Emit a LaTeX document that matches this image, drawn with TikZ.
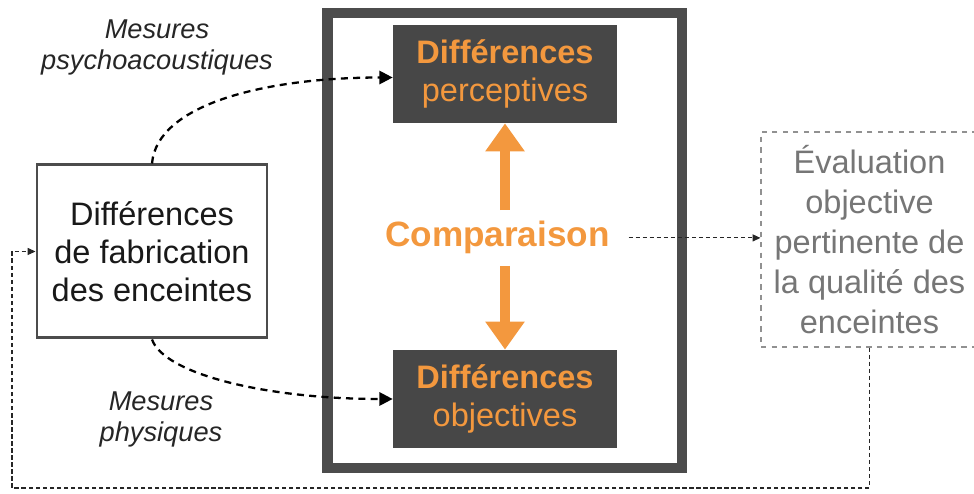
\documentclass[tikz,border=0pt]{standalone}
\usepackage{fontspec}
\setmainfont{Liberation Sans}
\usepackage{xcolor}
\usepackage{tikz}
\usetikzlibrary{arrows.meta,calc,positioning}
\definecolor{cmporange}{RGB}{243,152,62}
\definecolor{boxgrey}{RGB}{71,71,71}
\definecolor{framegrey}{RGB}{76,76,76}
\definecolor{evalgrey}{RGB}{118,118,118}
\newcommand{\bigfont}{\fontsize{18.5}{21.5}\selectfont}

\begin{document}
\begin{tikzpicture}[
  darkbox/.style={rectangle, fill=boxgrey, minimum width=4.48cm, minimum height=1.96cm,
    align=center, text=cmporange, font=\bigfont, inner sep=0pt},
  fabbox/.style={rectangle, draw=framegrey, line width=1.7pt, minimum width=4.6cm,
    minimum height=3.46cm, align=center, text=black!90, font=\bigfont},
  evalbox/.style={rectangle, draw=evalgrey!80, dashed, line width=0.6pt, minimum width=4.34cm,
    minimum height=4.3cm, align=center, text=evalgrey, font=\fontsize{18.5}{22.7}\selectfont},
  mlabel/.style={align=center, font=\fontsize{15.5}{17.6}\selectfont\itshape, text=black!85},
  bigarrow/.style={draw=cmporange, line width=5.7pt,
    -{Triangle[length=16pt,width=21.5pt]}},
  measure/.style={draw=black, line width=1.3pt, dash pattern=on 4pt off 3pt,
    -{Triangle[length=7.5pt,width=7.5pt]}},
  thinflow/.style={draw=black!85, line width=0.6pt, dash pattern=on 2.5pt off 1.5pt,
    -{Triangle[length=4.5pt,width=4pt]}}]
\useasboundingbox (0,0) rectangle (19.48,9.88);
% comparison frame
\draw[line width=5.7pt, framegrey] (6.55,0.52) rectangle (13.64,9.61);
\node[darkbox] (perc) at (10.10,8.40) {\textbf{Différences}\\perceptives};
\node[darkbox] (obj) at (10.10,1.90) {\textbf{Différences}\\objectives};
\node[anchor=base, text=cmporange, font=\fontsize{20}{24}\selectfont\bfseries] (cmp) at (9.95,4.94) {Comparaison};
\draw[bigarrow] ([yshift=3pt]cmp.north -| perc.south) -- (perc.south);
\draw[bigarrow] ([yshift=-3pt]cmp.south -| obj.north) -- (obj.north);
% outside
\node[fabbox] (fab) at (3.04,4.85) {Différences\\de fabrication\\des enceintes};
\node[evalbox] (eval) at (17.39,5.09) {Évaluation\\objective\\pertinente de\\la qualité des\\enceintes};
\node[mlabel] (psy) at (3.14,8.93) {Mesures\\psychoacoustiques};
\node[mlabel] (phy) at (3.22,1.49) {Mesures\\physiques};
\draw[measure] (fab.north) .. controls +(0.1,1.2) and +(-2.5,0) .. ([yshift=-2pt]perc.west);
\draw[measure] (fab.south) .. controls +(0.25,-0.7) and +(-2.5,0) .. (obj.west);
\draw[thinflow, shorten <=0.25cm] (cmp.east) -- (cmp.east -| eval.west);
\coordinate (loopcorner) at (0.24,0.12);
\draw[thinflow] (eval.south) |- (loopcorner) |- (fab.west);
\end{tikzpicture}
\end{document}
